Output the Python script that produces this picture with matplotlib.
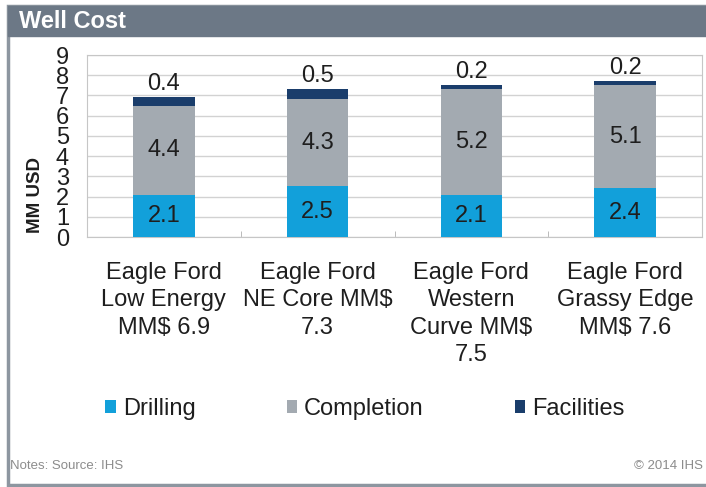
import matplotlib.pyplot as plt
import numpy as np
from matplotlib.patches import Rectangle

plt.rcParams['font.family'] = ['Liberation Sans', 'DejaVu Sans']

categories = ["Eagle Ford\nLow Energy\nMM$ 6.9", "Eagle Ford\nNE Core MM$\n7.3",
              "Eagle Ford\nWestern\nCurve MM$\n7.5", "Eagle Ford\nGrassy Edge\nMM$ 7.6"]
drilling = [2.1, 2.5, 2.1, 2.4]
completion = [4.4, 4.3, 5.2, 5.1]
facilities = [0.4, 0.5, 0.2, 0.2]
series_names = ["Drilling", "Completion", "Facilities"]
colors = ["#12a0da", "#a3aab1", "#1a3d6b"]

W, H = 706, 487
fig = plt.figure(figsize=(W / 100, H / 100), dpi=100)

# frame and title bar
fig.patches.append(Rectangle((8 / W, 0.004), 1.0, 1 - 6 / H - 0.004, transform=fig.transFigure,
                             facecolor="white", edgecolor="#8d96a0", lw=2.5, zorder=-2))
fig.patches.append(Rectangle((8 / W, 1 - 36 / H), 1.0, 30 / H, transform=fig.transFigure,
                             facecolor="#6c7886", edgecolor="#6c7886", lw=1, zorder=-1))
fig.text(19 / W, 1 - 22 / H, "Well Cost", color="white", fontsize=17, fontweight="bold",
         va="center", ha="left")

ax = fig.add_axes([87 / W, 1 - 237 / H, (702 - 87) / W, (237 - 55) / H])
ax.set_zorder(2)
x = np.arange(len(categories))
w = 0.4
b1 = ax.bar(x, drilling, w, color=colors[0], label=series_names[0], zorder=3)
bottom2 = np.array(drilling)
b2 = ax.bar(x, completion, w, bottom=bottom2, color=colors[1], label=series_names[1], zorder=3)
bottom3 = bottom2 + np.array(completion)
b3 = ax.bar(x, facilities, w, bottom=bottom3, color=colors[2], label=series_names[2], zorder=3)

txt = "#1e1e1e"
for i in range(len(x)):
    ax.text(x[i], drilling[i] / 2, f"{drilling[i]:.1f}", ha="center", va="center", fontsize=17, color=txt, zorder=4)
    ax.text(x[i], bottom2[i] + completion[i] / 2, f"{completion[i]:.1f}", ha="center", va="center",
            fontsize=17, color=txt, zorder=4)
    ax.text(x[i], bottom3[i] + facilities[i] + 0.12, f"{facilities[i]:.1f}", ha="center", va="bottom",
            fontsize=17, color=txt, zorder=4)

ax.set_xlim(-0.5, 3.5)
ax.set_ylim(0, 9)
ax.set_yticks(range(0, 10))
ax.yaxis.grid(True, color="#d2d2d2", lw=1, zorder=0)
ax.set_axisbelow(True)
for s in ax.spines.values():
    s.set_color("#c6c6c6")
ax.tick_params(axis="y", length=0, pad=13, labelsize=17, labelcolor=txt)
ax.set_xticks(x)
ax.set_xticklabels(categories, fontsize=17, color=txt, linespacing=1.32)
ax.tick_params(axis="x", length=0, pad=18)
ax.set_xticks(np.arange(0.5, 4, 1), minor=True)
ax.tick_params(axis="x", which="minor", length=4, direction="in", color="#b0b0b0")

fig.text(36 / W, 1 - 195 / H, "MM USD", rotation=90, fontsize=13.5, fontweight="bold",
         ha="center", va="center", color=txt)

leg = fig.legend(handles=[b1, b2, b3], loc="center", bbox_to_anchor=(365 / W, 1 - 409 / H), ncol=3,
                 frameon=False, fontsize=17, handlelength=0.45, handleheight=0.45,
                 handletextpad=0.3, columnspacing=3.85)
for t in leg.get_texts():
    t.set_color(txt)

fig.text(10 / W, 1 - 466 / H, "Notes: Source: IHS", fontsize=9.5, color="#8c8c8c", ha="left", va="center")
fig.text(703 / W, 1 - 466 / H, "© 2014 IHS", fontsize=9.5, color="#8c8c8c", ha="right", va="center")

fig.savefig("out.png", dpi=100)
